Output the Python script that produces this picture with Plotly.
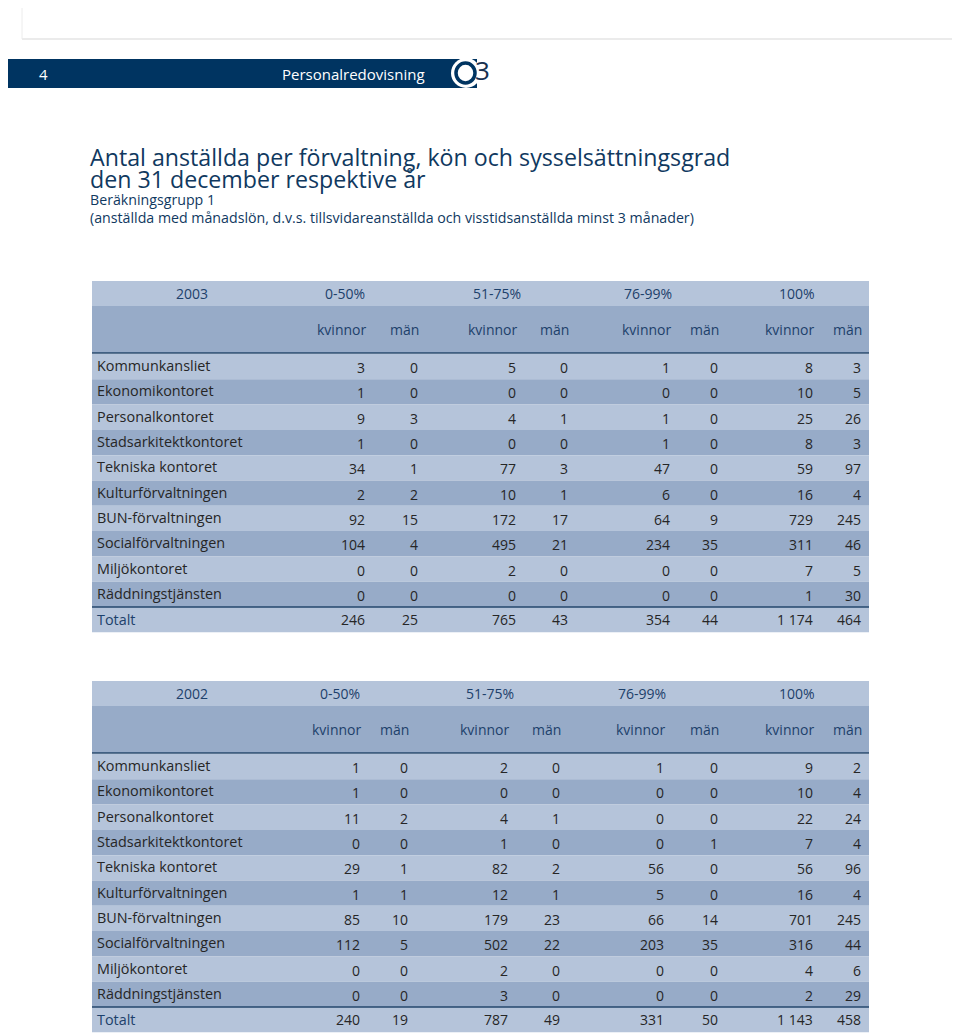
import plotly.graph_objects as go

# ---------------- data ----------------
departments = ["Kommunkansliet", "Ekonomikontoret", "Personalkontoret", "Stadsarkitektkontoret",
               "Tekniska kontoret", "Kulturförvaltningen", "BUN-förvaltningen",
               "Socialförvaltningen", "Miljökontoret", "Räddningstjänsten"]
total_label = "Totalt"
groups = ["0-50%", "51-75%", "76-99%", "100%"]
genders = ["kvinnor", "män"]

values_2003 = [
    [3, 0, 5, 0, 1, 0, 8, 3],
    [1, 0, 0, 0, 0, 0, 10, 5],
    [9, 3, 4, 1, 1, 0, 25, 26],
    [1, 0, 0, 0, 1, 0, 8, 3],
    [34, 1, 77, 3, 47, 0, 59, 97],
    [2, 2, 10, 1, 6, 0, 16, 4],
    [92, 15, 172, 17, 64, 9, 729, 245],
    [104, 4, 495, 21, 234, 35, 311, 46],
    [0, 0, 2, 0, 0, 0, 7, 5],
    [0, 0, 0, 0, 0, 0, 1, 30],
]
totals_2003 = [246, 25, 765, 43, 354, 44, 1174, 464]

values_2002 = [
    [1, 0, 2, 0, 1, 0, 9, 2],
    [1, 0, 0, 0, 0, 0, 10, 4],
    [11, 2, 4, 1, 0, 0, 22, 24],
    [0, 0, 1, 0, 0, 1, 7, 4],
    [29, 1, 82, 2, 56, 0, 56, 96],
    [1, 1, 12, 1, 5, 0, 16, 4],
    [85, 10, 179, 23, 66, 14, 701, 245],
    [112, 5, 502, 22, 203, 35, 316, 44],
    [0, 0, 2, 0, 0, 0, 4, 6],
    [0, 0, 3, 0, 0, 0, 2, 29],
]
totals_2002 = [240, 19, 787, 49, 331, 50, 1143, 458]

# ---------------- style / layout constants ----------------
W, H = 960, 1035
OFF = 8  # page body margin compensation
FONT = "Open Sans"
NAVY = "#003461"
TITLE_C = "#10395f"
HEAD_C = "#1d416b"
TXT_C = "#262626"
LIGHT = "#b5c4da"
DARK = "#97abc8"
LINE_C = "#25476d"

TX0, TX1 = 92, 869
ROW_H = 25.3

tables = [
    dict(year="2003", top=281, vals=values_2003, tot=totals_2003,
         right=[366, 419, 517, 569, 671, 719, 814, 862],
         gcent=[192, 345, 497, 648, 797]),
    dict(year="2002", top=681, vals=values_2002, tot=totals_2002,
         right=[361, 409, 509, 561, 665, 719, 814, 862],
         gcent=[192, 340, 490, 642, 797]),
]

fig = go.Figure()
shapes = []
ann = []


def fmt(v):
    return f"{v:,}".replace(",", " ")


def rect(x0, y0, x1, y1, color, layer="below"):
    shapes.append(dict(type="rect", xref="x", yref="y", x0=x0, y0=y0, x1=x1, y1=y1,
                       fillcolor=color, line=dict(width=0), layer=layer))


def text(x, y, s, size, color, xanchor="left"):
    ann.append(dict(x=x, y=y, xref="x", yref="y", text=s, showarrow=False,
                    xanchor=xanchor, yanchor="middle", borderpad=0,
                    font=dict(family=FONT, size=size, color=color)))


# top thin frame
shapes.append(dict(type="line", xref="x", yref="y", x0=22, y0=39, x1=W + OFF, y1=39,
                   line=dict(color="#e4e4e4", width=1.5)))
shapes.append(dict(type="line", xref="x", yref="y", x0=22, y0=0, x1=22, y1=39,
                   line=dict(color="#ececec", width=1)))

# banner
rect(0, 59, 477, 88, NAVY)
text(38, 74, "4", 15, "white")
text(281, 74, "Personalredovisning", 15, "white")
shapes.append(dict(type="circle", xref="x", yref="y", x0=451, y0=58, x1=481, y1=88,
                   fillcolor="white", line=dict(width=0), layer="above"))
shapes.append(dict(type="circle", xref="x", yref="y", x0=456, y0=63, x1=475, y1=83,
                   line=dict(color=NAVY, width=3.5), layer="above"))
text(474, 70, "3", 26, "#17304f")

# titles
text(89, 157, "Antal anställda per förvaltning, kön och sysselsättningsgrad", 23.2, TITLE_C)
text(89, 178.5, "den 31 december respektive år", 23.2, TITLE_C)
text(89, 199.5, "Beräkningsgrupp 1", 14.2, TITLE_C)
text(89, 217, "(anställda med månadslön, d.v.s. tillsvidareanställda och visstidsanställda minst 3 månader)",
     14.2, TITLE_C)

for t in tables:
    top = t["top"]
    h1 = top + 25
    h2 = h1 + 47
    rect(TX0, top, TX1, h1, LIGHT)
    rect(TX0, h1, TX1, h2, DARK)
    # group header row
    text(t["gcent"][0], (top + h1) / 2, t["year"], 14, HEAD_C, "center")
    for g, c in zip(groups, t["gcent"][1:]):
        text(c, (top + h1) / 2, g, 14, HEAD_C, "center")
    # gender header row
    for i, r in enumerate(t["right"]):
        text(r + 1, (h1 + h2) / 2, genders[i % 2], 14, HEAD_C, "right")
    y0 = h2 + 1
    for ri, (name, row) in enumerate(zip(departments, t["vals"])):
        ya, yb = y0 + ri * ROW_H, y0 + (ri + 1) * ROW_H
        rect(TX0, ya, TX1, yb, LIGHT if ri % 2 == 0 else DARK)
        yc = (ya + yb) / 2
        text(96, yc - 1, name, 14.4, TXT_C)
        for r, v in zip(t["right"], row):
            text(r, yc + 1, fmt(v), 14, TXT_C, "right")
    ya = y0 + len(departments) * ROW_H
    yb = ya + ROW_H
    rect(TX0, ya, TX1, yb, LIGHT)
    yc = (ya + yb) / 2
    text(96, yc, total_label, 14.4, HEAD_C)
    for r, v in zip(t["right"], t["tot"]):
        text(r, yc, fmt(v), 14, TXT_C, "right")
    # separator lines
    shapes.append(dict(type="line", xref="x", yref="y", x0=TX0, x1=TX1, y0=h2, y1=h2,
                       line=dict(color=LINE_C, width=1.5)))
    shapes.append(dict(type="line", xref="x", yref="y", x0=TX0, x1=TX1, y0=ya, y1=ya,
                       line=dict(color=LINE_C, width=1.5)))

fig.update_layout(
    width=W, height=H,
    margin=dict(l=0, r=0, t=0, b=0),
    paper_bgcolor="white", plot_bgcolor="white",
    xaxis=dict(range=[OFF, W + OFF], visible=False, fixedrange=True),
    yaxis=dict(range=[H + OFF, OFF], visible=False, fixedrange=True),
    shapes=shapes, annotations=ann, showlegend=False,
)
fig.write_html("out.html")
